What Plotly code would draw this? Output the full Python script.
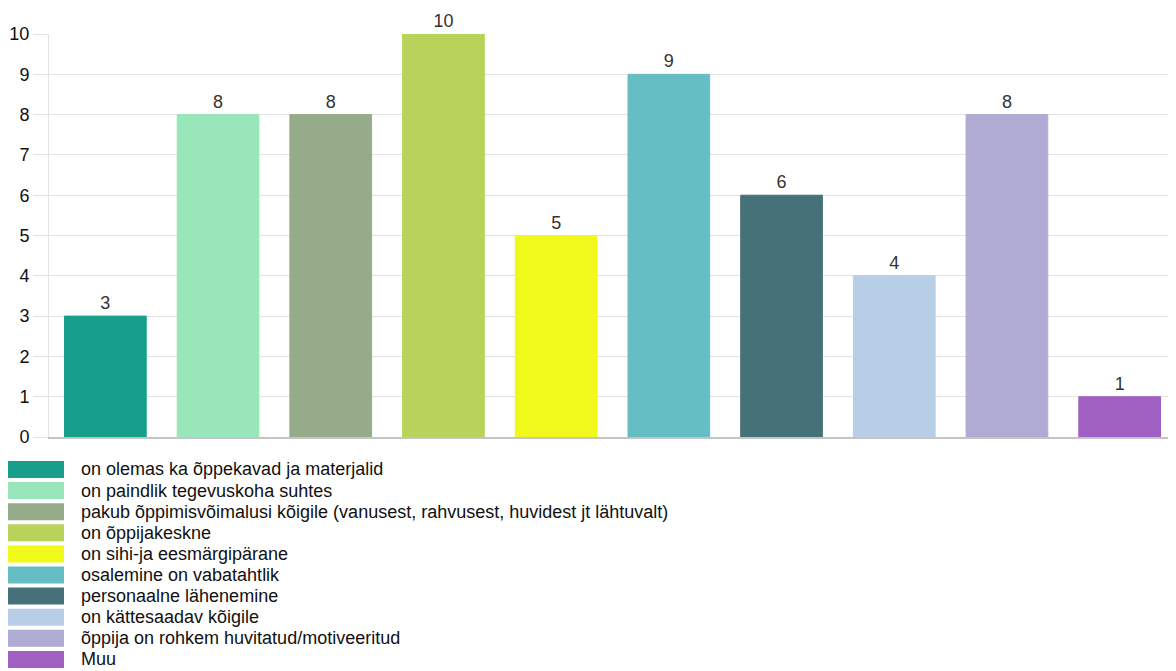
import plotly.graph_objects as go

categories = [
    "on olemas ka õppekavad ja materjalid",
    "on paindlik tegevuskoha suhtes",
    "pakub õppimisvõimalusi kõigile (vanusest, rahvusest, huvidest jt lähtuvalt)",
    "on õppijakeskne",
    "on sihi-ja eesmärgipärane",
    "osalemine on vabatahtlik",
    "personaalne lähenemine",
    "on kättesaadav kõigile",
    "õppija on rohkem huvitatud/motiveeritud",
    "Muu",
]
values = [3, 8, 8, 10, 5, 9, 6, 4, 8, 1]
colors = ["#179f8b", "#98e6b9", "#95ab8a", "#b9d35a", "#f0f91a",
          "#65bec3", "#477178", "#b8cde6", "#afabd3", "#a060c2"]
y_ticks = list(range(0, 11))

# page has an 8px body margin; figure coordinates = page coordinates - 8
OFF = 8
W, H = 1176 - OFF, 671 - OFF
ML, MR, MT, MB = 49 - OFF, 0, 34 - OFF, 671 - 437
PW = W - ML - MR
PH = H - MT - MB

FONT = "Liberation Sans, Arial, Helvetica, sans-serif"

fig = go.Figure()
for i, (c, v, col) in enumerate(zip(categories, values, colors)):
    fig.add_trace(go.Bar(
        x=[i], y=[v], name=c,
        marker=dict(color=col, opacity=1.0, line=dict(color=col, width=1)),
        text=[str(v)], textposition="outside", cliponaxis=False,
        textfont=dict(size=18, color="#333333", family=FONT),
        width=0.725, showlegend=False,
    ))

def px_x(x):
    return (x - OFF - ML) / PW

def px_y(y):
    return (MT + PH - (y - OFF)) / PH

shapes = []
annotations = []
row0 = 469.5
step = 21.1
for i, (c, col) in enumerate(zip(categories, colors)):
    yc = row0 + i * step
    shapes.append(dict(type="rect", xref="paper", yref="paper",
                       x0=px_x(OFF), x1=px_x(64), y0=px_y(yc - 8.5), y1=px_y(yc + 8.5),
                       fillcolor=col, line=dict(width=0)))
    annotations.append(dict(xref="paper", yref="paper", x=px_x(79), y=px_y(yc),
                            text=c, showarrow=False, xanchor="left", yanchor="middle",
                            font=dict(size=18, color="#111111", family=FONT)))

fig.update_layout(
    width=W, height=H,
    margin=dict(l=ML, r=MR, t=MT, b=MB),
    plot_bgcolor="white", paper_bgcolor="white",
    shapes=shapes, annotations=annotations,
    font=dict(family=FONT, size=18, color="#111111"),
    xaxis=dict(range=[-0.5, 9.5], showticklabels=False, showgrid=False,
               showline=True, linecolor="#c4c4c4", linewidth=1.5, zeroline=False,
               fixedrange=True),
    yaxis=dict(range=[0, 10], tickvals=y_ticks, showgrid=True, gridcolor="#e3e3e3",
               gridwidth=1, zeroline=False, showline=True, linecolor="#e3e3e3",
               ticks="outside", ticklen=15, tickcolor="#e3e3e3",
               tickfont=dict(size=18, color="#111111", family=FONT), fixedrange=True),
)

fig.write_html("out.html")
